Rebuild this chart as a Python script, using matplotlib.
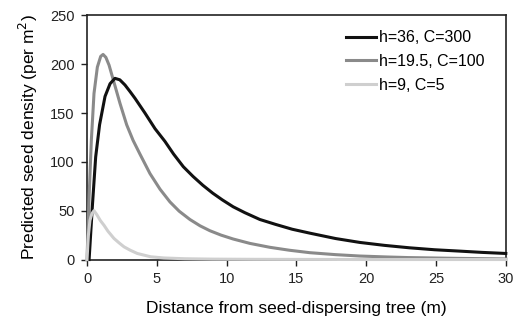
import matplotlib
matplotlib.use("Agg")
import matplotlib.pyplot as plt

plt.rcParams['font.family'] = ['Liberation Sans', 'DejaVu Sans']

# h=36, C=300
black_x = [0.15, 0.38, 0.62, 0.9, 1.29, 1.65, 2.0, 2.35, 2.72, 3.08, 3.44, 4.15, 4.87,
           5.58, 6.2, 6.9, 7.6, 8.3, 9.0, 9.7, 10.47, 11.3, 12.38, 13.5, 14.7,
           15.96, 17.8, 19.54, 21.3, 23.1, 24.9, 26.7, 28.3, 30]
black_y = [0, 54, 105, 138, 167, 180, 185.5, 184, 178.7, 172, 165, 150, 134,
           121, 108, 95, 85, 76, 68, 61, 54, 48, 41, 36, 31,
           27, 21.5, 17.5, 14.5, 12, 10, 8.6, 7.3, 6.2]

# h=19.5, C=100
gray_x = [0, 0.14, 0.31, 0.5, 0.74, 0.98, 1.15, 1.35, 1.58, 1.88, 2.36, 2.84, 3.3,
          3.79, 4.51, 5.23, 5.94, 6.6, 7.37, 8.1, 8.8, 9.6, 10.47, 11.67, 13.1,
          14.5, 15.96, 17.8, 19.5, 21.5, 23, 26.5, 30]
gray_y = [0, 61, 122, 170, 197, 208, 210, 207, 199, 184, 160, 138, 122,
          108, 88, 72, 59, 49.5, 41, 34.5, 29.5, 25, 21, 16.5, 12.5,
          9.5, 7, 5, 3.6, 2.6, 2, 1.2, 0.6]

# h=9, C=5
light_x = [0, 0.1, 0.21, 0.35, 0.5, 0.7, 0.95, 1.22, 1.5, 1.93, 2.3, 2.65, 3.1, 3.6,
           4.56, 5.5, 7, 9, 12, 16, 20, 25, 30]
light_y = [0, 25, 40, 47, 50, 46, 40, 35, 29, 21.6, 17, 13, 9.5, 6.2,
           2.8, 1.6, 0.8, 0.4, 0.2, 0.1, 0, 0, 0]

labels = ["h=36, C=300", "h=19.5, C=100", "h=9, C=5"]

fig = plt.figure(figsize=(5.22, 3.2), dpi=100)
ax = fig.add_axes([0.1667, 0.189, 0.8023, 0.763])

ax.plot(black_x, black_y, color='#111111', lw=2.2, label=labels[0], zorder=5, clip_on=False)
ax.plot(gray_x, gray_y, color='#8a8a8a', lw=2.2, label=labels[1], zorder=4, clip_on=False)
ax.plot(light_x, light_y, color='#cfcfcf', lw=2.2, label=labels[2], zorder=6, clip_on=False)

ax.set_xlim(0, 30)
ax.set_ylim(0, 250)
ax.set_xticks(range(0, 31, 5))
ax.set_yticks(range(0, 251, 50))
for s in ax.spines.values():
    s.set_linewidth(1.2)
    s.set_color('#222222')
ax.tick_params(direction='out', length=4, width=1, labelsize=10.5, colors='#222222', pad=5)

ax.set_xlabel("Distance from seed-dispersing tree (m)", fontsize=12.5, labelpad=11)
ax.set_ylabel("Predicted seed density (per m$^2$)", fontsize=12.5, labelpad=7)

ax.legend(loc='upper right', frameon=False, fontsize=11.5, handlelength=1.9,
          handletextpad=0.2, labelspacing=0.55, borderaxespad=0,
          bbox_to_anchor=(0.965, 0.965))

fig.savefig("out.png", dpi=100)
